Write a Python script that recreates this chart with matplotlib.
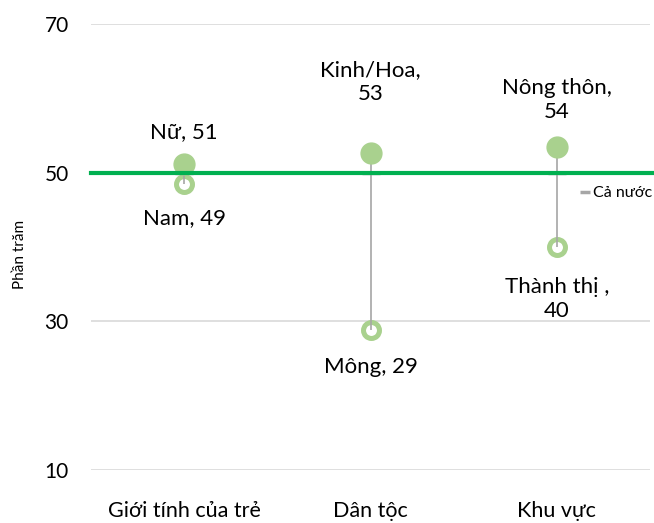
import matplotlib
matplotlib.use("Agg")
import matplotlib.pyplot as plt
from matplotlib.lines import Line2D

plt.rcParams['font.family'] = ['Lato', 'DejaVu Sans']

categories = ["Giới tính của trẻ", "Dân tộc", "Khu vực"]
high_values = [51.2, 52.7, 53.4]
low_values = [48.5, 28.8, 40.0]
national = [50, 50, 50]
high_labels = ["Nữ, 51", "Kinh/Hoa,\n53", "Nông thôn,\n54"]
low_labels = ["Nam, 49", "Mông, 29", "Thành thị ,\n40"]
yticks = [10, 30, 50, 70]

# label offsets (points) – layout only
high_offsets = [23, 50.5, 34]
low_offsets = [-24.5, -26.5, -37.5]

fig = plt.figure(figsize=(6.54, 5.23), dpi=100)
ax = fig.add_axes([91/654, 1-470/523, (650-91)/654, (470-24)/523])
ax.set_xlim(-0.5, 2.5)
ax.set_ylim(10, 70)
x = list(range(len(categories)))

ax.set_yticks(yticks)
ax.grid(axis='y', color='#d9d9d9', linewidth=1.2, zorder=0)
for s in ax.spines.values():
    s.set_visible(False)
ax.tick_params(axis='both', length=0)
ax.tick_params(axis='y', labelsize=15, pad=16)
ax.tick_params(axis='x', labelsize=15.5, pad=22)
ax.set_xticks(x)
ax.set_xticklabels(categories)
fig.text(20/654, 1-254/523, "Phần trăm", rotation=90, ha='center', va='center', fontsize=11)

# low markers (hollow)
ax.plot(x, low_values, linestyle='none', marker='o', markersize=11.5,
        markerfacecolor='white', markeredgecolor='#a9d18e', markeredgewidth=3.6, zorder=3)
# high-low lines
ax.vlines(x, low_values, high_values, color='#a6a6a6', linewidth=1.2, zorder=3.5)
# national dash
ax.plot(x, national, linestyle='none', marker='_', markersize=13, markeredgewidth=2.5,
        color='#a6a6a6', zorder=3.6)
# high markers
ax.plot(x, high_values, linestyle='none', marker='o', markersize=15,
        markerfacecolor='#a9d18e', markeredgecolor='#a9d18e', zorder=4)

# national green line
ax.plot([-0.5, 2.53], [50, 50], color='#00b050', linewidth=3, zorder=5, clip_on=False)

for xi, v, lab, off in zip(x, high_values, high_labels, high_offsets):
    ax.annotate(lab, (xi, v), xytext=(0, off), textcoords='offset points',
                ha='center', va='center', fontsize=16, linespacing=1.25)
for xi, v, lab, off in zip(x, low_values, low_labels, low_offsets):
    ax.annotate(lab, (xi, v), xytext=(0, off), textcoords='offset points',
                ha='center', va='center', fontsize=16, linespacing=1.25)

leg_handle = Line2D([], [], linestyle='none', marker='_', markersize=7,
                    markeredgewidth=2.5, color='#a6a6a6')
leg = fig.legend([leg_handle], ["Cả nước"], loc='center left',
                 bbox_to_anchor=(581/654, 1-193/523), frameon=False, fontsize=11.5,
                 handlelength=0.5, handletextpad=0.25, borderpad=0, borderaxespad=0)

fig.savefig("out.png", dpi=100)
